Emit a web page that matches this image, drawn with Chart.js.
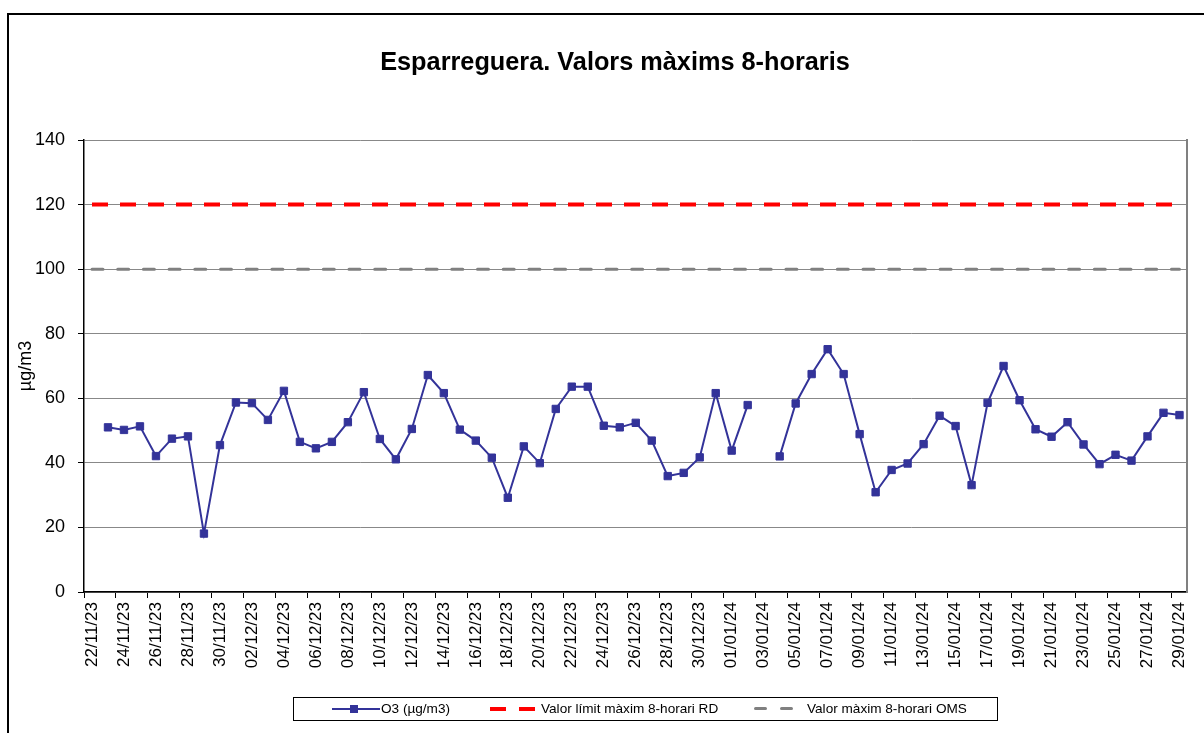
<!DOCTYPE html>
<html>
<head>
<meta charset="utf-8">
<script src="https://cdn.jsdelivr.net/npm/chart.js@4.4.1/dist/chart.umd.min.js"></script>
<style>
  html, body { margin: 0; padding: 0; background: #fff; overflow: hidden; }
  body { width: 1204px; height: 733px; position: relative; font-family: "Liberation Sans", Arial, sans-serif; }
  #frame { position: absolute; left: 7px; top: 13px; width: 1200px; height: 800px; border: 2px solid #000; box-sizing: border-box; }
  #title { position: absolute; left: 0; width: 1230px; top: 47px; text-align: center; font-weight: bold; font-size: 25.3px; color: #000; }
  #wrap { position: absolute; left: 0; top: 0; width: 1204px; height: 733px; }
  #legend { position: absolute; left: 293px; top: 697px; width: 705px; height: 24px; border: 1px solid #000; box-sizing: border-box; font-size: 13.6px; color: #000; }
  .lt { position: absolute; top: 3px; white-space: nowrap; }
  .sym { position: absolute; }
</style>
</head>
<body>
<div id="wrap"><canvas id="c"></canvas></div>
<div id="frame"></div>
<div id="title">Esparreguera. Valors màxims 8-horaris</div>
<div id="legend">
  <div class="sym" style="left:38px;top:10px;width:48px;height:2px;background:#333399"></div>
  <div class="sym" style="left:56px;top:7px;width:8px;height:8px;background:#333399"></div>
  <div class="lt" style="left:87px">O3 (µg/m3)</div>
  <div class="sym" style="left:196px;top:9px;width:16px;height:4px;background:#ff0000"></div>
  <div class="sym" style="left:225px;top:9px;width:16px;height:4px;background:#ff0000"></div>
  <div class="lt" style="left:247px">Valor límit màxim 8-horari RD</div>
  <div class="sym" style="left:460px;top:9px;width:13px;height:3px;background:#808080;border-radius:2px"></div>
  <div class="sym" style="left:486px;top:9px;width:13px;height:3px;background:#808080;border-radius:2px"></div>
  <div class="lt" style="left:513px">Valor màxim 8-horari OMS</div>
</div>
<script>
const categories = [
  "22/11/23","23/11/23","24/11/23","25/11/23","26/11/23","27/11/23","28/11/23","29/11/23","30/11/23",
  "01/12/23","02/12/23","03/12/23","04/12/23","05/12/23","06/12/23","07/12/23","08/12/23","09/12/23","10/12/23",
  "11/12/23","12/12/23","13/12/23","14/12/23","15/12/23","16/12/23","17/12/23","18/12/23","19/12/23","20/12/23",
  "21/12/23","22/12/23","23/12/23","24/12/23","25/12/23","26/12/23","27/12/23","28/12/23","29/12/23","30/12/23","31/12/23",
  "01/01/24","02/01/24","03/01/24","04/01/24","05/01/24","06/01/24","07/01/24","08/01/24","09/01/24","10/01/24",
  "11/01/24","12/01/24","13/01/24","14/01/24","15/01/24","16/01/24","17/01/24","18/01/24","19/01/24","20/01/24",
  "21/01/24","22/01/24","23/01/24","24/01/24","25/01/24","26/01/24","27/01/24","28/01/24","29/01/24"
];
const o3Values = [
  null, 51.0, 50.2, 51.3, 42.1, 47.5, 48.2, 18.1, 45.5,
  58.7, 58.5, 53.3, 62.3, 46.5, 44.5, 46.5, 52.6, 61.9, 47.4,
  41.1, 50.5, 67.2, 61.6, 50.3, 46.9, 41.6, 29.2, 45.1, 39.9,
  56.7, 63.6, 63.6, 51.5, 51.0, 52.4, 46.9, 35.9, 36.9, 41.7, 61.6,
  43.8, 57.9, null, 42.0, 58.4, 67.5, 75.2, 67.5, 48.9, 30.9,
  37.8, 39.8, 45.8, 54.6, 51.4, 33.1, 58.6, 70.0, 59.4, 50.4,
  48.1, 52.6, 45.7, 39.6, 42.5, 40.7, 48.2, 55.5, 54.8
];
const limitRD = 120;
const limitOMS = 100;
const yTicks = [0, 20, 40, 60, 80, 100, 120, 140];
const seriesNames = ["O3 (µg/m3)", "Valor límit màxim 8-horari RD", "Valor màxim 8-horari OMS"];

const FONT = "'Liberation Sans', Arial, sans-serif";
const first = categories[0], last = categories[categories.length - 1];

new Chart(document.getElementById('c'), {
  type: 'line',
  data: {
    labels: categories,
    datasets: [
      {
        label: seriesNames[0], data: o3Values,
        borderColor: '#333399', backgroundColor: '#333399', borderWidth: 2,
        pointStyle: 'rect', pointRadius: 5.2, pointBorderWidth: 1, pointBorderColor: '#333399',
        pointBackgroundColor: '#333399', tension: 0, spanGaps: false, order: 0
      },
      {
        label: seriesNames[1], data: [{x: first, y: limitRD}, {x: last, y: limitRD}],
        borderColor: '#ff0000', borderWidth: 4, borderDash: [16, 12], borderCapStyle: 'butt',
        pointRadius: 0, order: 1
      },
      {
        label: seriesNames[2], data: [{x: first, y: limitOMS}, {x: last, y: limitOMS}],
        borderColor: '#808080', borderWidth: 3, borderDash: [11, 14.7], borderCapStyle: 'round',
        pointRadius: 0, order: 2
      }
    ]
  },
  options: {
    responsive: true, maintainAspectRatio: false, animation: false,
    layout: { padding: { top: 140, right: 16, bottom: 0, left: 0 } },
    plugins: { legend: { display: false }, tooltip: { enabled: false }, title: { display: false } },
    scales: {
      x: {
        type: 'category', offset: true,
        afterFit: s => { s.height = 141; },
        grid: {
          offset: true, drawOnChartArea: false, drawTicks: true, tickLength: 6,
          tickColor: ctx => (ctx.index !== undefined && ctx.index % 2 === 0) ? '#000' : 'rgba(0,0,0,0)',
          color: 'rgba(0,0,0,0)'
        },
        border: { color: '#000', width: 1.5 },
        ticks: {
          autoSkip: false, minRotation: 90, maxRotation: 90, padding: 4,
          color: '#000', font: { family: FONT, size: 17 },
          callback: function(v, i) { return i % 2 === 0 ? this.getLabelForValue(v) : ''; }
        }
      },
      y: {
        min: 0, max: 140,
        afterBuildTicks: s => { s.ticks = yTicks.map(v => ({ value: v })); },
        afterFit: s => { s.width = 84; },
        grid: { color: '#888888', lineWidth: 1, tickColor: '#000', tickLength: 6 },
        border: { color: '#000', width: 1.5 },
        ticks: { color: '#000', font: { family: FONT, size: 18 }, padding: 13 },
        title: { display: true, text: 'µg/m3', color: '#000', font: { family: FONT, size: 18 }, padding: { top: 15, bottom: 0 } }
      },
      y2: {
        position: 'right', min: 0, max: 140,
        afterFit: s => { s.width = 0; },
        grid: { display: false, drawOnChartArea: false, drawTicks: false },
        border: { display: true, color: '#808080', width: 2 },
        ticks: { display: false }
      }
    }
  }
});
</script>
</body>
</html>
